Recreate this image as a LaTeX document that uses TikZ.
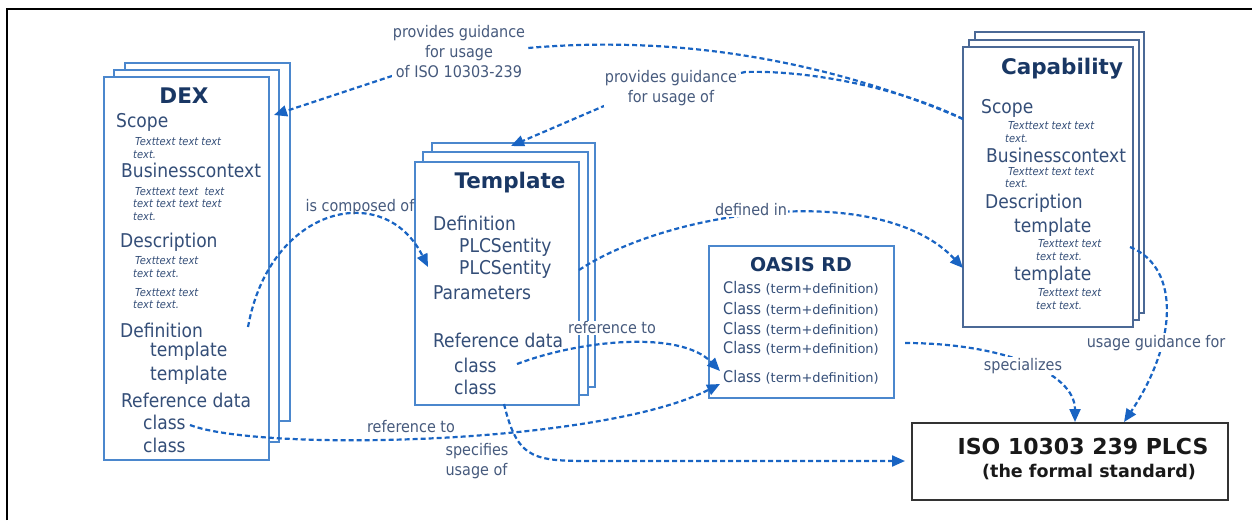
\documentclass[tikz,border=0pt]{standalone}
\usepackage{fontspec}
\setmainfont{DejaVu Sans}
\newfontfamily\cf{DejaVu Sans Condensed}
\usetikzlibrary{arrows.meta,fit}
\definecolor{txtc}{RGB}{52,78,120}
\definecolor{titlec}{RGB}{25,55,100}
\definecolor{lblc}{RGB}{70,90,125}
\definecolor{pagec}{RGB}{75,135,205}
\definecolor{capc}{RGB}{75,105,150}
\definecolor{arrc}{RGB}{25,100,195}
\begin{document}
\begin{tikzpicture}[x=1pt,y=-1pt,
  pg/.style={draw=pagec,line width=2pt,fill=white,inner sep=0pt,outer sep=0pt},
  cpg/.style={draw=capc,line width=1.8pt,fill=white,inner sep=0pt,outer sep=0pt},
  isobox/.style={draw=black!80,line width=2pt,fill=white,inner sep=0pt,outer sep=0pt},
  ttl/.style={font=\fontsize{21.5}{21.5}\selectfont\bfseries,text=titlec,inner sep=0pt},
  ttlb/.style={font=\fontsize{19}{19}\selectfont\bfseries,text=titlec,inner sep=0pt},
  itm/.style={font=\cf\fontsize{19}{19}\selectfont,text=txtc,anchor=west,inner sep=0pt},
  sml/.style={font=\cf\itshape\fontsize{11}{11}\selectfont,text=txtc,anchor=west,inner sep=0pt},
  cls/.style={font=\cf\fontsize{16}{16}\selectfont,text=txtc,anchor=west,inner sep=0pt},
  isot/.style={font=\fontsize{22}{22}\selectfont\bfseries,text=black!90,inner sep=0pt},
  isotb/.style={font=\fontsize{17.5}{17.5}\selectfont\bfseries,text=black!90,inner sep=0pt},
  lbl/.style={font=\cf\fontsize{16}{20}\selectfont,text=lblc,fill=white,inner sep=1pt,align=center},
  conn/.style={draw=arrc,line width=2.2pt,dash pattern=on 5pt off 3pt,-{Triangle[length=13pt,width=11pt]}}
]
\useasboundingbox (0,0) rectangle (1252,520);
% outer frame (top and left edges)
\draw[line width=2.2pt,black] (7,520) -- (7,9) -- (1252,9);

% DEX stack
\node[pg,fit={(125,63) (290,421)}] (dex3) {};
\node[pg,fit={(114,70) (279,442)}] (dex2) {};
\node[pg,fit={(104,77) (269,460)}] (dex) {};
% Template stack
\node[pg,fit={(432,143) (595,387)}] (tpl3) {};
\node[pg,fit={(423,152) (588,395)}] (tpl2) {};
\node[pg,fit={(415,162) (579,405)}] (tpl) {};
% Capability stack
\node[cpg,fit={(975,32) (1144,313)}] (cap3) {};
\node[cpg,fit={(969,40) (1139,320)}] (cap2) {};
\node[cpg,fit={(963,47) (1133,327)}] (cap) {};
% OASIS RD
\node[pg,fit={(709,246) (894,398)}] (oas) {};
% ISO
\node[isobox,fit={(912,423) (1228,500)}] (iso) {};

% DEX texts
\node[ttl] (dexT) at (184,96) {DEX};
\node[itm] (dx1) at (116,122) {Scope};
\node[sml] (dx2) at (135,142) {Texttext text text};
\node[sml] (dx3) at (133,155) {text.};
\node[itm] (dx4) at (121,170) {Businesscontext};
\node[sml] (dx5) at (135,192) {Texttext text\ \ text};
\node[sml] (dx6) at (133,204) {text text text text};
\node[sml] (dx7) at (133,217) {text.};
\node[itm] (dx8) at (120,242) {Description};
\node[sml] (dx9) at (135,261) {Texttext text};
\node[sml] (dx10) at (133,274) {text text.};
\node[sml] (dx11) at (135,293) {Texttext text};
\node[sml] (dx12) at (133,305) {text text.};
\node[itm] (dx13) at (120,330) {Definition};
\node[itm] (dx14) at (150,351) {template};
\node[itm] (dx15) at (150,375) {template};
\node[itm] (dx16) at (121,400) {Reference data};
\node[itm] (dx17) at (143,422) {class};
\node[itm] (dx18) at (143,445) {class};

% Template texts
\node[ttl] (tT) at (510,183) {Template};
\node[itm] (t1) at (433,223) {Definition};
\node[itm] (t2) at (459,247) {PLCSentity};
\node[itm] (t3) at (459,269) {PLCSentity};
\node[itm] (t4) at (433,293) {Parameters};
\node[itm] (t5) at (433,340) {Reference data};
\node[itm] (t6) at (454,365) {class};
\node[itm] (t7) at (454,387) {class};

% Capability texts
\node[ttl] (cT) at (1062,69) {Capability};
\node[itm] (c1) at (981,108) {Scope};
\node[sml] (c2) at (1008,126) {Texttext text text};
\node[sml] (c3) at (1005,139) {text.};
\node[itm] (c4) at (986,155) {Businesscontext};
\node[sml] (c5) at (1008,172) {Texttext text text};
\node[sml] (c6) at (1005,184) {text.};
\node[itm] (c7) at (985,203) {Description};
\node[itm] (c8) at (1014,227) {template};
\node[sml] (c9) at (1038,244) {Texttext text};
\node[sml] (c10) at (1036,257) {text text.};
\node[itm] (c11) at (1014,275) {template};
\node[sml] (c12) at (1038,293) {Texttext text};
\node[sml] (c13) at (1036,306) {text text.};

% OASIS texts
\node[ttlb] (oT) at (801,265) {OASIS RD};
\node[cls] (o1) at (723,288) {Class {\rmfamily\fontsize{13}{13}\selectfont(term+definition)}};
\node[cls] (o2) at (723,309) {Class {\rmfamily\fontsize{13}{13}\selectfont(term+definition)}};
\node[cls] (o3) at (723,329) {Class {\rmfamily\fontsize{13}{13}\selectfont(term+definition)}};
\node[cls] (o4) at (723,348) {Class {\rmfamily\fontsize{13}{13}\selectfont(term+definition)}};
\node[cls] (o5) at (723,377) {Class {\rmfamily\fontsize{13}{13}\selectfont(term+definition)}};

% ISO texts
\node[isot] (i1) at (1083,446) {ISO 10303 239 PLCS};
\node[isotb] (i2) at (1089,472) {(the formal standard)};

% connector end points
\coordinate (capG) at (963,119);
\coordinate (dexTip) at (274,115);
\coordinate (tplTip) at (511,146);
\coordinate (dexD) at (248,327);
\coordinate (tplIn) at (428,267);
\coordinate (tplR) at (579,270);
\coordinate (capIn) at (963,268);
\coordinate (tplC) at (517,364);
\coordinate (oasIn1) at (720,371);
\coordinate (dexC) at (190,425);
\coordinate (oasIn2) at (720,384);
\coordinate (tplB) at (504,404);
\coordinate (isoIn) at (905,461);
\coordinate (oasR) at (905,343);
\coordinate (isoTop1) at (1075,422);
\coordinate (capT) at (1130,247);
\coordinate (isoTop2) at (1124,422);

% connectors
\draw[conn] (capG) .. controls (850,70) and (700,33) .. (528,48) -- (395,75) -- (dexTip);
\draw[conn] (capG) .. controls (900,88) and (810,70) .. (745,72) -- (604,106) -- (tplTip);
\draw[conn] (dexD) .. controls (270,205) and (385,180) .. (tplIn);
\draw[conn] (tplR) .. controls (670,210) and (880,180) .. (capIn);
\draw[conn] (tplC) .. controls (580,340) and (680,330) .. (oasIn1);
\draw[conn] (dexC) .. controls (260,452) and (600,445) .. (oasIn2);
\draw[conn] (tplB) .. controls (518,462) and (535,461) .. (600,461) -- (isoIn);
\draw[conn] (oasR) .. controls (1000,343) and (1075,372) .. (isoTop1);
\draw[conn] (capT) .. controls (1182,268) and (1176,345) .. (isoTop2);

% labels
\node[lbl] (l1) at (459,52) {provides guidance\\for usage\\of ISO 10303-239};
\node[lbl] (l2) at (671,88) {provides guidance\\for usage of};
\node[lbl,fill=none] (l3) at (360,207) {is composed of};
\node[lbl] (l4) at (751,210) {defined in};
\node[lbl] (l5) at (612,328) {reference to};
\node[lbl] (l6) at (411,427) {reference to};
\node[lbl,fill=none,align=left] (l7) at (477,461) {specifies\\usage of};
\node[lbl] (l8) at (1023,366) {specializes};
\node[lbl] (l9) at (1156,343) {usage guidance for};
\end{tikzpicture}
\end{document}
